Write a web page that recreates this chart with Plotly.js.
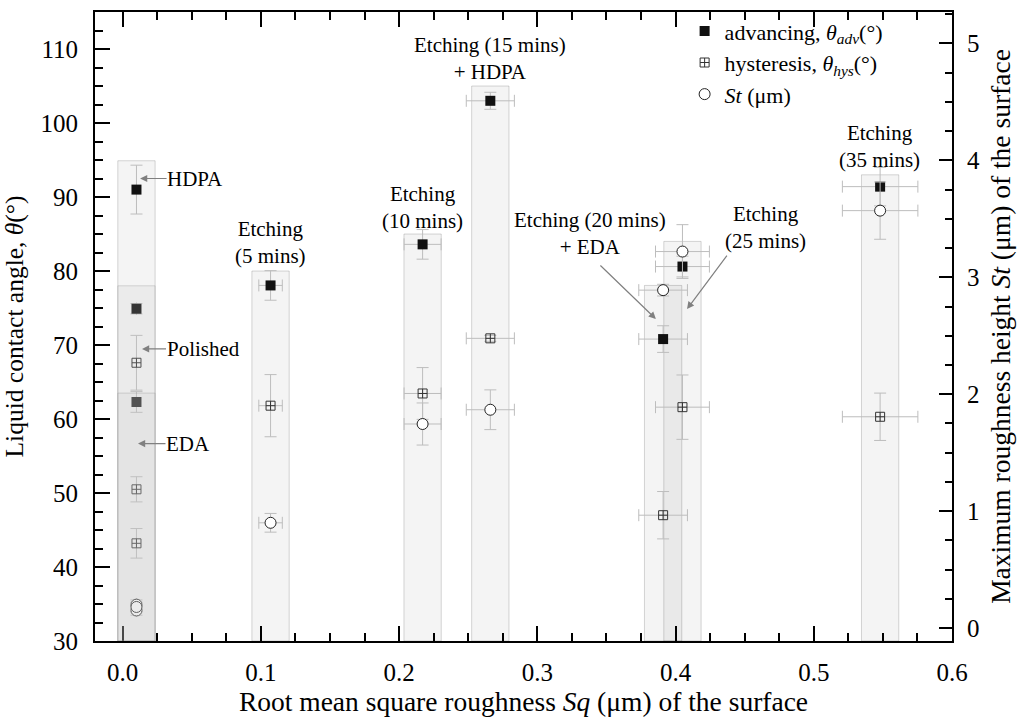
<!DOCTYPE html>
<html>
<head>
<meta charset="utf-8">
<script src="https://cdn.plot.ly/plotly-3.0.1.min.js"></script>
<style>html,body{margin:0;padding:0;background:#fff;}#chart{width:1021px;height:720px;}</style>
</head>
<body>
<div id="chart"></div>
<script>
// ---- data ----
const surfaces = ['HDPA','Polished','EDA','Etching (5 mins)','Etching (10 mins)','Etching (15 mins) + HDPA','Etching (20 mins) + EDA','Etching (25 mins)','Etching (35 mins)'];
const sq      = [0.01, 0.01, 0.01, 0.107, 0.217, 0.266, 0.391, 0.405, 0.548];
const sqErr   = [0, 0, 0, 0.0085, 0.0134, 0.0174, 0.0176, 0.0195, 0.0273];
const adv     = [91.0, 74.9, 62.3, 78.05, 83.6, 103.0, 70.8, 80.6, 91.4];
const advErr  = [3.3, 0.7, 1.4, 2.0, 2.0, 1.15, 1.8, 1.4, 2.6];
const hys     = [67.6, 50.5, 43.2, 61.8, 63.45, 70.9, 47.0, 61.6, 60.3];
const hysErr  = [3.7, 1.7, 2.0, 4.2, 3.5, 0.4, 3.2, 4.35, 3.2];
const st      = [0.2, 0.15, 0.18, 0.9, 1.745, 1.867, 2.89, 3.22, 3.57];
const stErr   = [0.04, 0.04, 0.04, 0.08, 0.18, 0.17, 0.05, 0.23, 0.245];
const barTop  = [94.9, 78.0, 63.5, 80.0, 85.0, 105.0, 78.05, 84.0, 93.0];

// ---- styles ----
const FONT = 'Liberation Serif, DejaVu Serif, serif';
const errStyle = {color: '#bdbdbd', thickness: 1, width: 6};
const barHalf = 0.0135;

const traces = [
  {
    x: sq, y: adv, type: 'scatter', mode: 'markers',
    name: 'advancing, <i>θ</i><sub><i>adv</i></sub>(°)',
    marker: {symbol: 'square', size: 10, color: '#111'},
    error_y: Object.assign({type: 'data', array: advErr, visible: true}, errStyle),
    error_x: Object.assign({type: 'data', array: sqErr, visible: true}, errStyle)
  },
  {
    x: sq, y: hys, type: 'scatter', mode: 'markers',
    name: 'hysteresis, <i>θ</i><sub><i>hys</i></sub>(°)',
    marker: {symbol: 'square-cross-open', size: 9, color: '#333', line: {width: 1, color: '#333'}},
    error_y: Object.assign({type: 'data', array: hysErr, visible: true}, errStyle),
    error_x: Object.assign({type: 'data', array: sqErr, visible: true}, errStyle)
  },
  {
    x: sq, y: st, type: 'scatter', mode: 'markers', yaxis: 'y2',
    name: '<i>St</i> (μm)',
    marker: {symbol: 'circle', size: 11, color: '#fff', line: {width: 1, color: '#222'}},
    error_y: Object.assign({type: 'data', array: stErr, visible: true}, errStyle),
    error_x: Object.assign({type: 'data', array: sqErr, visible: true}, errStyle)
  }
];

// bars (rectangles) behind each surface group
const aboveIdx = [1, 2];
const shapes = sq.map((x, i) => {
  const above = aboveIdx.indexOf(i) >= 0;
  return {
    type: 'rect', xref: 'x', yref: 'y',
    x0: x - barHalf, x1: x + barHalf, y0: 30, y1: barTop[i],
    layer: above ? 'above' : 'below',
    fillcolor: above ? 'rgba(200,200,200,0.2)' : 'rgba(0,0,0,0.045)',
    line: {color: above ? 'rgba(150,150,150,0.35)' : 'rgba(0,0,0,0.16)', width: 1}
  };
});

const annFont = {family: FONT, size: 21, color: '#000'};
const arrowCol = '#808080';
function label(text, x, y) {
  return {text: text, x: x, y: y, xref: 'x', yref: 'y', showarrow: false, font: annFont, align: 'center', xanchor: 'center', yanchor: 'middle'};
}
function arrowLabel(text, x, y, ax) {
  return {text: text, x: x, y: y, xref: 'x', yref: 'y', showarrow: true, ax: ax, ay: 0,
          arrowhead: 2, arrowsize: 1.2, arrowwidth: 1.2, arrowcolor: arrowCol, font: annFont, borderpad: 0};
}
function arrowOnly(x, y, ax, ay) {
  return {text: '', x: x, y: y, xref: 'x', yref: 'y', showarrow: true, ax: ax, ay: ay,
          arrowhead: 2, arrowsize: 1.2, arrowwidth: 1.2, arrowcolor: arrowCol};
}

const annotations = [
  arrowLabel('HDPA', 0.0126, 92.5, 55),
  arrowLabel('Polished', 0.014, 69.47, 61),
  arrowLabel('EDA', 0.0111, 56.68, 50),
  label('Etching<br>(5 mins)', 0.1073, 83.82),
  label('Etching<br>(10 mins)', 0.2166, 88.53),
  label('Etching (15 mins)<br>+ HDPA', 0.2658, 108.74),
  label('Etching (20 mins)<br>+ EDA', 0.3381, 85.1),
  label('Etching<br>(25 mins)', 0.465, 85.84),
  label('Etching<br>(35 mins)', 0.5479, 96.88),
  arrowOnly(0.3858, 73.51, -57, -55),
  arrowOnly(0.4083, 74.86, 41, -55)
];

const layout = {
  width: 1021, height: 720,
  margin: {l: 95, r: 69, t: 10, b: 79},
  paper_bgcolor: '#fff', plot_bgcolor: '#fff',
  font: {family: FONT, size: 25, color: '#000'},
  showlegend: true,
  legend: {x: 0.688, y: 1.003, xanchor: 'left', yanchor: 'top', bgcolor: 'rgba(0,0,0,0)',
           font: {family: FONT, size: 22, color: '#000'}, itemsizing: 'trace', tracegroupgap: 0},
  xaxis: {
    range: [-0.02, 0.6], dtick: 0.1, tick0: 0, tickformat: '.1f',
    ticks: 'inside', ticklen: 15, tickwidth: 2, tickcolor: '#000',
    minor: {dtick: 0.025, ticklen: 8, tickwidth: 2, ticks: 'inside', tickcolor: '#000'},
    showline: true, linewidth: 2, linecolor: '#000', mirror: 'ticks',
    showgrid: false, zeroline: false, ticklabelstandoff: 8,
    tickfont: {family: FONT, size: 25},
    title: {text: 'Root mean square roughness <i>Sq</i> (μm) of the surface', font: {family: FONT, size: 27.5}, standoff: 5}
  },
  yaxis: {
    range: [30, 115], dtick: 10, tick0: 30,
    ticks: 'inside', ticklen: 15, tickwidth: 2, tickcolor: '#000',
    minor: {dtick: 2.5, ticklen: 8, tickwidth: 2, ticks: 'inside', tickcolor: '#000'},
    showline: true, linewidth: 2, linecolor: '#000',
    showgrid: false, zeroline: false, ticklabelstandoff: 10,
    tickfont: {family: FONT, size: 25},
    title: {text: 'Liquid contact angle, <i>θ</i>(°)', font: {family: FONT, size: 25.5}, standoff: 14}
  },
  yaxis2: {
    overlaying: 'y', side: 'right',
    range: [-0.111, 5.269], dtick: 1, tick0: 0,
    ticks: 'inside', ticklen: 13, tickwidth: 2, tickcolor: '#000',
    minor: {dtick: 0.25, ticklen: 7, tickwidth: 2, ticks: 'inside', tickcolor: '#000'},
    showline: true, linewidth: 2, linecolor: '#000',
    showgrid: false, zeroline: false, ticklabelstandoff: 8,
    tickfont: {family: FONT, size: 25},
    title: {text: 'Maximum roughness height <i>St</i> (μm) of the surface', font: {family: FONT, size: 27.5}, standoff: 12}
  },
  shapes: shapes,
  annotations: annotations
};

Plotly.newPlot('chart', traces, layout, {displayModeBar: false, staticPlot: true});
</script>
</body>
</html>
